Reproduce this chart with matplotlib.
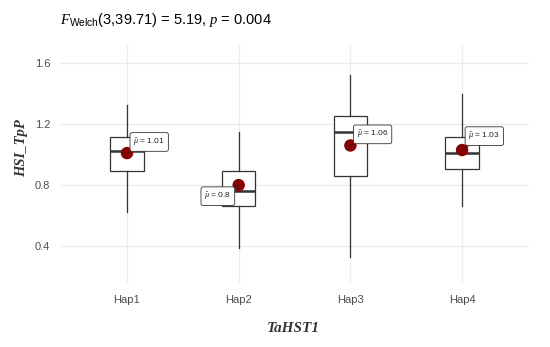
import numpy as np
import matplotlib
matplotlib.use("Agg")
import matplotlib.pyplot as plt

# serif italic for F and p in the title, sans for the rest
plt.rcParams['mathtext.fontset'] = 'custom'
plt.rcParams['mathtext.rm'] = 'Liberation Sans'
plt.rcParams['mathtext.it'] = 'Liberation Serif:italic'
plt.rcParams['mathtext.bf'] = 'Liberation Sans:bold'
plt.rcParams['font.family'] = ['Liberation Sans', 'DejaVu Sans']

# data
haps = ['Hap1', 'Hap2', 'Hap3', 'Hap4']
whislo = [0.625, 0.39, 0.33, 0.662]
q1 = [0.894, 0.66, 0.857, 0.905]
med = [1.023, 0.76, 1.15, 1.012]
q3 = [1.117, 0.893, 1.254, 1.113]
whishi = [1.325, 1.15, 1.52, 1.395]
means = [1.01, 0.80, 1.06, 1.03]
mean_labels = ['1.01', '0.8', '1.06', '1.03']

# label offsets in points (styling only)
label_offsets = [(16, 8), (-15, -8), (16, 8), (16, 10)]

fig = plt.figure(figsize=(5.5, 3.47), dpi=100)
ax = fig.add_axes([0.109, 0.187, 0.853, 0.683])

stats = []
for i in range(len(haps)):
    stats.append(dict(whislo=whislo[i], q1=q1[i], med=med[i], q3=q3[i],
                      whishi=whishi[i], fliers=[], label=haps[i]))

pos = np.arange(1, len(haps) + 1)
ax.bxp(stats, positions=pos, widths=0.3, showcaps=False, patch_artist=True,
       boxprops=dict(facecolor='white', edgecolor='#333333', linewidth=0.9),
       whiskerprops=dict(color='#333333', linewidth=0.9),
       medianprops=dict(color='#333333', linewidth=1.8),
       zorder=3)

ax.scatter(pos, means, s=80, color='#8B0000', zorder=5, edgecolors='none')

for x, m, lab, off in zip(pos, means, mean_labels, label_offsets):
    ax.annotate(r'$\hat{\mu}$ = ' + lab, xy=(x, m), xytext=off,
                textcoords='offset points', ha='center', va='center',
                fontsize=6, color='#222222',
                bbox=dict(boxstyle='round,pad=0.4,rounding_size=0.25',
                          fc='white', ec='#333333', lw=0.6),
                arrowprops=dict(arrowstyle='-', color='#222222', lw=0.6,
                                shrinkA=0, shrinkB=0),
                zorder=6)

ax.set_xlim(0.4, 4.6)
ax.set_ylim(0.164, 1.718)
ax.set_xticks(pos)
ax.set_xticklabels(haps)
ax.set_yticks([0.4, 0.8, 1.2, 1.6])
ax.set_yticklabels(['0.4', '0.8', '1.2', '1.6'])
ax.tick_params(length=0, labelsize=8, labelcolor='#4D4D4D')
ax.tick_params(axis='x', pad=9)
ax.tick_params(axis='y', pad=7)
ax.grid(True, color='#EBEBEB', linewidth=1.0, zorder=0)
ax.set_axisbelow(True)
for s in ax.spines.values():
    s.set_visible(False)

fig.text(0.109, 1 - 20 / 347,
         r'$\mathit{F}_{\mathrm{Welch}}$(3,39.71) = 5.19, $\mathit{p}$ = 0.004',
         fontsize=10.5, va='center', ha='left', color='black')
fig.text(21.7 / 550, 1 - 148 / 347, 'HSI_TpP', rotation=90, ha='center',
         va='center', fontsize=10.5, family='Liberation Serif',
         style='italic', weight='bold', color='#333333')
fig.text(293 / 550, 1 - 329 / 347, 'TaHST1', ha='center', va='center',
         fontsize=11, family='Liberation Serif', style='italic',
         weight='bold', color='#333333')

fig.savefig('out.png', dpi=100, facecolor='white')
